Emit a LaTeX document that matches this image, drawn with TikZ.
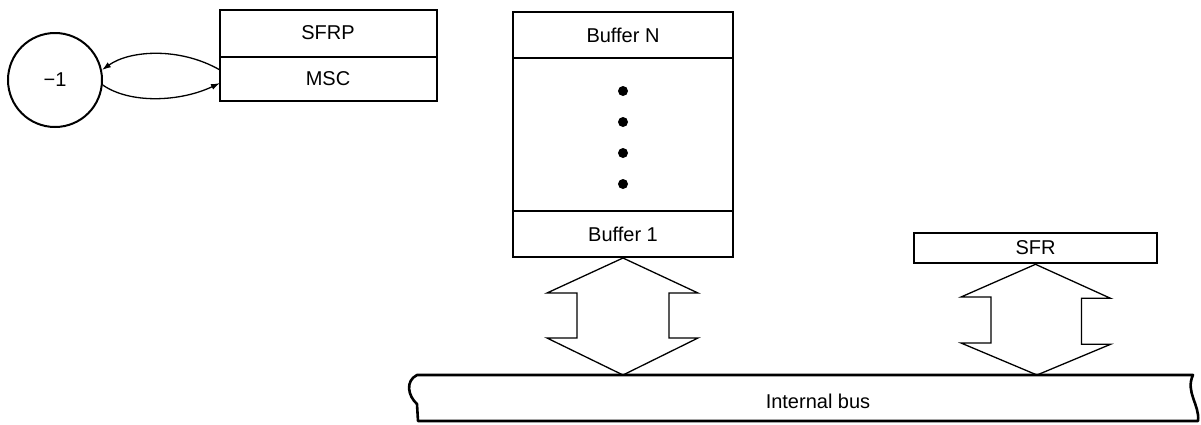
\documentclass[tikz,border=0pt]{standalone}
\usepackage{fontspec}
\setmainfont{Liberation Sans}
\usetikzlibrary{arrows.meta}
\begin{document}
\begin{tikzpicture}[x=1pt,y=-1pt,
  lbl/.style={font=\fontsize{20}{24}\selectfont, inner sep=0pt},
  frame/.style={line width=2.6pt},
  divider/.style={line width=1.3pt},
  conn/.style={line width=1.3pt, -{Latex[length=9pt,width=6pt]}},
  dbl/.style={line width=1.3pt, line join=miter},
  dot/.style={circle, fill=black, inner sep=0pt, minimum size=10pt}]
\useasboundingbox (0,0) rectangle (1201,424);

% circle
\node[circle, draw, line width=2pt, minimum size=94pt, lbl] (neg) at (55,80) {−1};

% SFRP / MSC box
\draw[frame] (220,10) rectangle (437,101);
\draw[divider] (220,57) -- (437,57);
\node[lbl] (sfrp) at (328,33) {SFRP};
\node[lbl] (msc) at (328,79) {MSC};
\coordinate (mscA) at (220,70);
\coordinate (mscB) at (220,83);
\draw[conn] (mscA) .. controls (180,47) and (130,50) .. (neg.12);
\draw[conn] (neg.-6) .. controls (130,104) and (180,102) .. (mscB);

% buffer stack
\draw[frame] (513,12) rectangle (733,257);
\draw[divider] (513,58) -- (733,58);
\draw[divider] (513,211) -- (733,211);
\node[lbl] (bufN) at (623,35) {Buffer N};
\node[lbl] (buf1) at (623,234) {Buffer 1};
\node[dot] (d1) at (623,91) {};
\node[dot] (d2) at (623,122) {};
\node[dot] (d3) at (623,153) {};
\node[dot] (d4) at (623,184) {};

% SFR
\node[draw, frame, minimum width=243pt, minimum height=30pt, lbl] (sfr) at (1035.5,248) {SFR};

% internal bus
\draw[frame, line join=round] (417,375) -- (1193,375)
  .. controls (1185,392) and (1200,405) .. (1198,421) -- (418,421) -- (417,404)
  .. controls (408,396) and (405,381) .. cycle;
\node[lbl] (bus) at (818,401) {Internal bus};

% double arrows
\coordinate (t1) at (623,258);
\coordinate (b1) at (623,375);
\draw[dbl] (t1) -- ++(75,35) -- ++(-29,0) -- ++(0,45) -- ++(29,0) -- (b1)
  -- ++(-76,-37) -- ++(30,0) -- ++(0,-45) -- ++(-30,0) -- cycle;
\coordinate (t2) at (sfr.south);
\coordinate (b2) at (1037,375);
\draw[dbl] (t2) -- ++(75,34) -- ++(-29,0) -- ++(0,46) -- ++(29,0) -- (b2)
  -- ++(-76,-32) -- ++(30,0) -- ++(0,-46) -- ++(-30,0) -- cycle;
\end{tikzpicture}
\end{document}
